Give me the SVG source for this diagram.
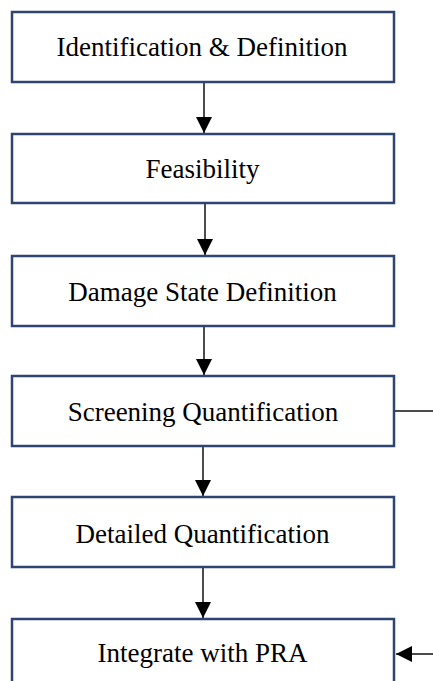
<svg xmlns="http://www.w3.org/2000/svg" width="433" height="681" viewBox="0 0 433 681">
<style>
.box{fill:#fff;stroke:#2f4470;stroke-width:2.5}
.lbl{font-family:"Liberation Serif","Times New Roman",serif;font-size:27px;fill:#000;text-anchor:middle}
.con{stroke:#111;stroke-width:1.5;fill:none}
</style>
<defs>
<marker id="ah" markerUnits="userSpaceOnUse" markerWidth="16" markerHeight="16" viewBox="0 0 16 16" refX="16" refY="8" orient="auto">
<path d="M0,0 L16,8 L0,16 Z" fill="#000"/>
</marker>
</defs>
<rect width="433" height="681" fill="#fff"/>
<g id="connectors">
<line class="con" x1="204" y1="82" x2="204" y2="133" marker-end="url(#ah)"/>
<line class="con" x1="205" y1="203" x2="205" y2="255" marker-end="url(#ah)"/>
<line class="con" x1="204" y1="326" x2="204" y2="375" marker-end="url(#ah)"/>
<line class="con" x1="203" y1="446" x2="203" y2="496" marker-end="url(#ah)"/>
<line class="con" x1="203" y1="567" x2="203" y2="618" marker-end="url(#ah)"/>
<line class="con" x1="394" y1="411" x2="433" y2="411"/>
<line class="con" x1="433" y1="654" x2="396" y2="654" marker-end="url(#ah)"/>
</g>
<g id="n1"><rect class="box" x="12" y="12" width="382" height="70"/><text class="lbl" x="202" y="56">Identification &amp; Definition</text></g>
<g id="n2"><rect class="box" x="12" y="134" width="382" height="69"/><text class="lbl" x="202.5" y="178">Feasibility</text></g>
<g id="n3"><rect class="box" x="12" y="256" width="382" height="70"/><text class="lbl" x="202.5" y="301">Damage State Definition</text></g>
<g id="n4"><rect class="box" x="12" y="376" width="382" height="70"/><text class="lbl" x="203" y="421">Screening Quantification</text></g>
<g id="n5"><rect class="box" x="12" y="497" width="382" height="70"/><text class="lbl" x="202.5" y="543">Detailed Quantification</text></g>
<g id="n6"><rect class="box" x="12" y="619" width="382" height="72"/><text class="lbl" x="202.5" y="662">Integrate with PRA</text></g>
</svg>
